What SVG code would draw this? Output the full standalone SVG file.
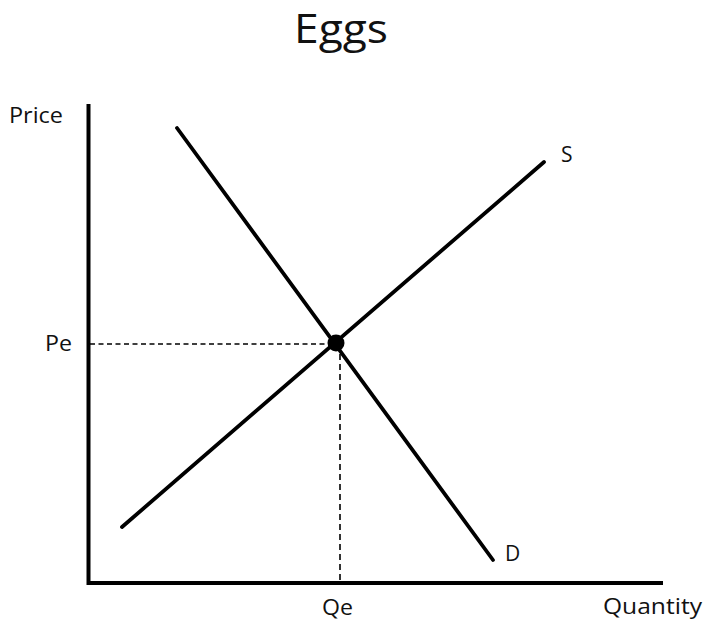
<svg xmlns="http://www.w3.org/2000/svg" width="708" height="623" viewBox="0 0 708 623">
<style>
text{font-family:"Open Sans","Liberation Sans",sans-serif;fill:#111}
.lbl{font-size:21px}
.axis{stroke:#000;stroke-width:4;fill:none;stroke-linecap:square}
.curve{stroke:#000;stroke-width:3.8;fill:none;stroke-linecap:round}
.dash{stroke:#000;stroke-width:1.6;fill:none}
</style>
<rect width="708" height="623" fill="#fff"/>
<text x="341" y="43" font-size="40" text-anchor="middle" textLength="94" lengthAdjust="spacingAndGlyphs">Eggs</text>
<g id="axes">
<path class="axis" d="M88.5,106 V583 H661"/>
<text class="lbl" x="9" y="123" textLength="54" lengthAdjust="spacingAndGlyphs">Price</text>
<text class="lbl" x="603" y="614" textLength="99" lengthAdjust="spacingAndGlyphs">Quantity</text>
</g>
<g id="connectors">
<path class="dash" d="M90,344 H336" stroke-dasharray="5,3.5"/>
<path class="dash" d="M340,344 V583" stroke-dasharray="6,4"/>
</g>
<g id="supply">
<line class="curve" x1="122" y1="527" x2="544" y2="162"/>
<text class="lbl" x="561" y="162">S</text>
</g>
<g id="demand">
<line class="curve" x1="177" y1="128" x2="493" y2="560"/>
<text class="lbl" x="505" y="561">D</text>
</g>
<g id="equilibrium">
<circle cx="336" cy="343" r="8.5" fill="#000"/>
<text class="lbl" x="45" y="351" textLength="27" lengthAdjust="spacingAndGlyphs">Pe</text>
<text class="lbl" x="322" y="615" textLength="31" lengthAdjust="spacingAndGlyphs">Qe</text>
</g>
</svg>
